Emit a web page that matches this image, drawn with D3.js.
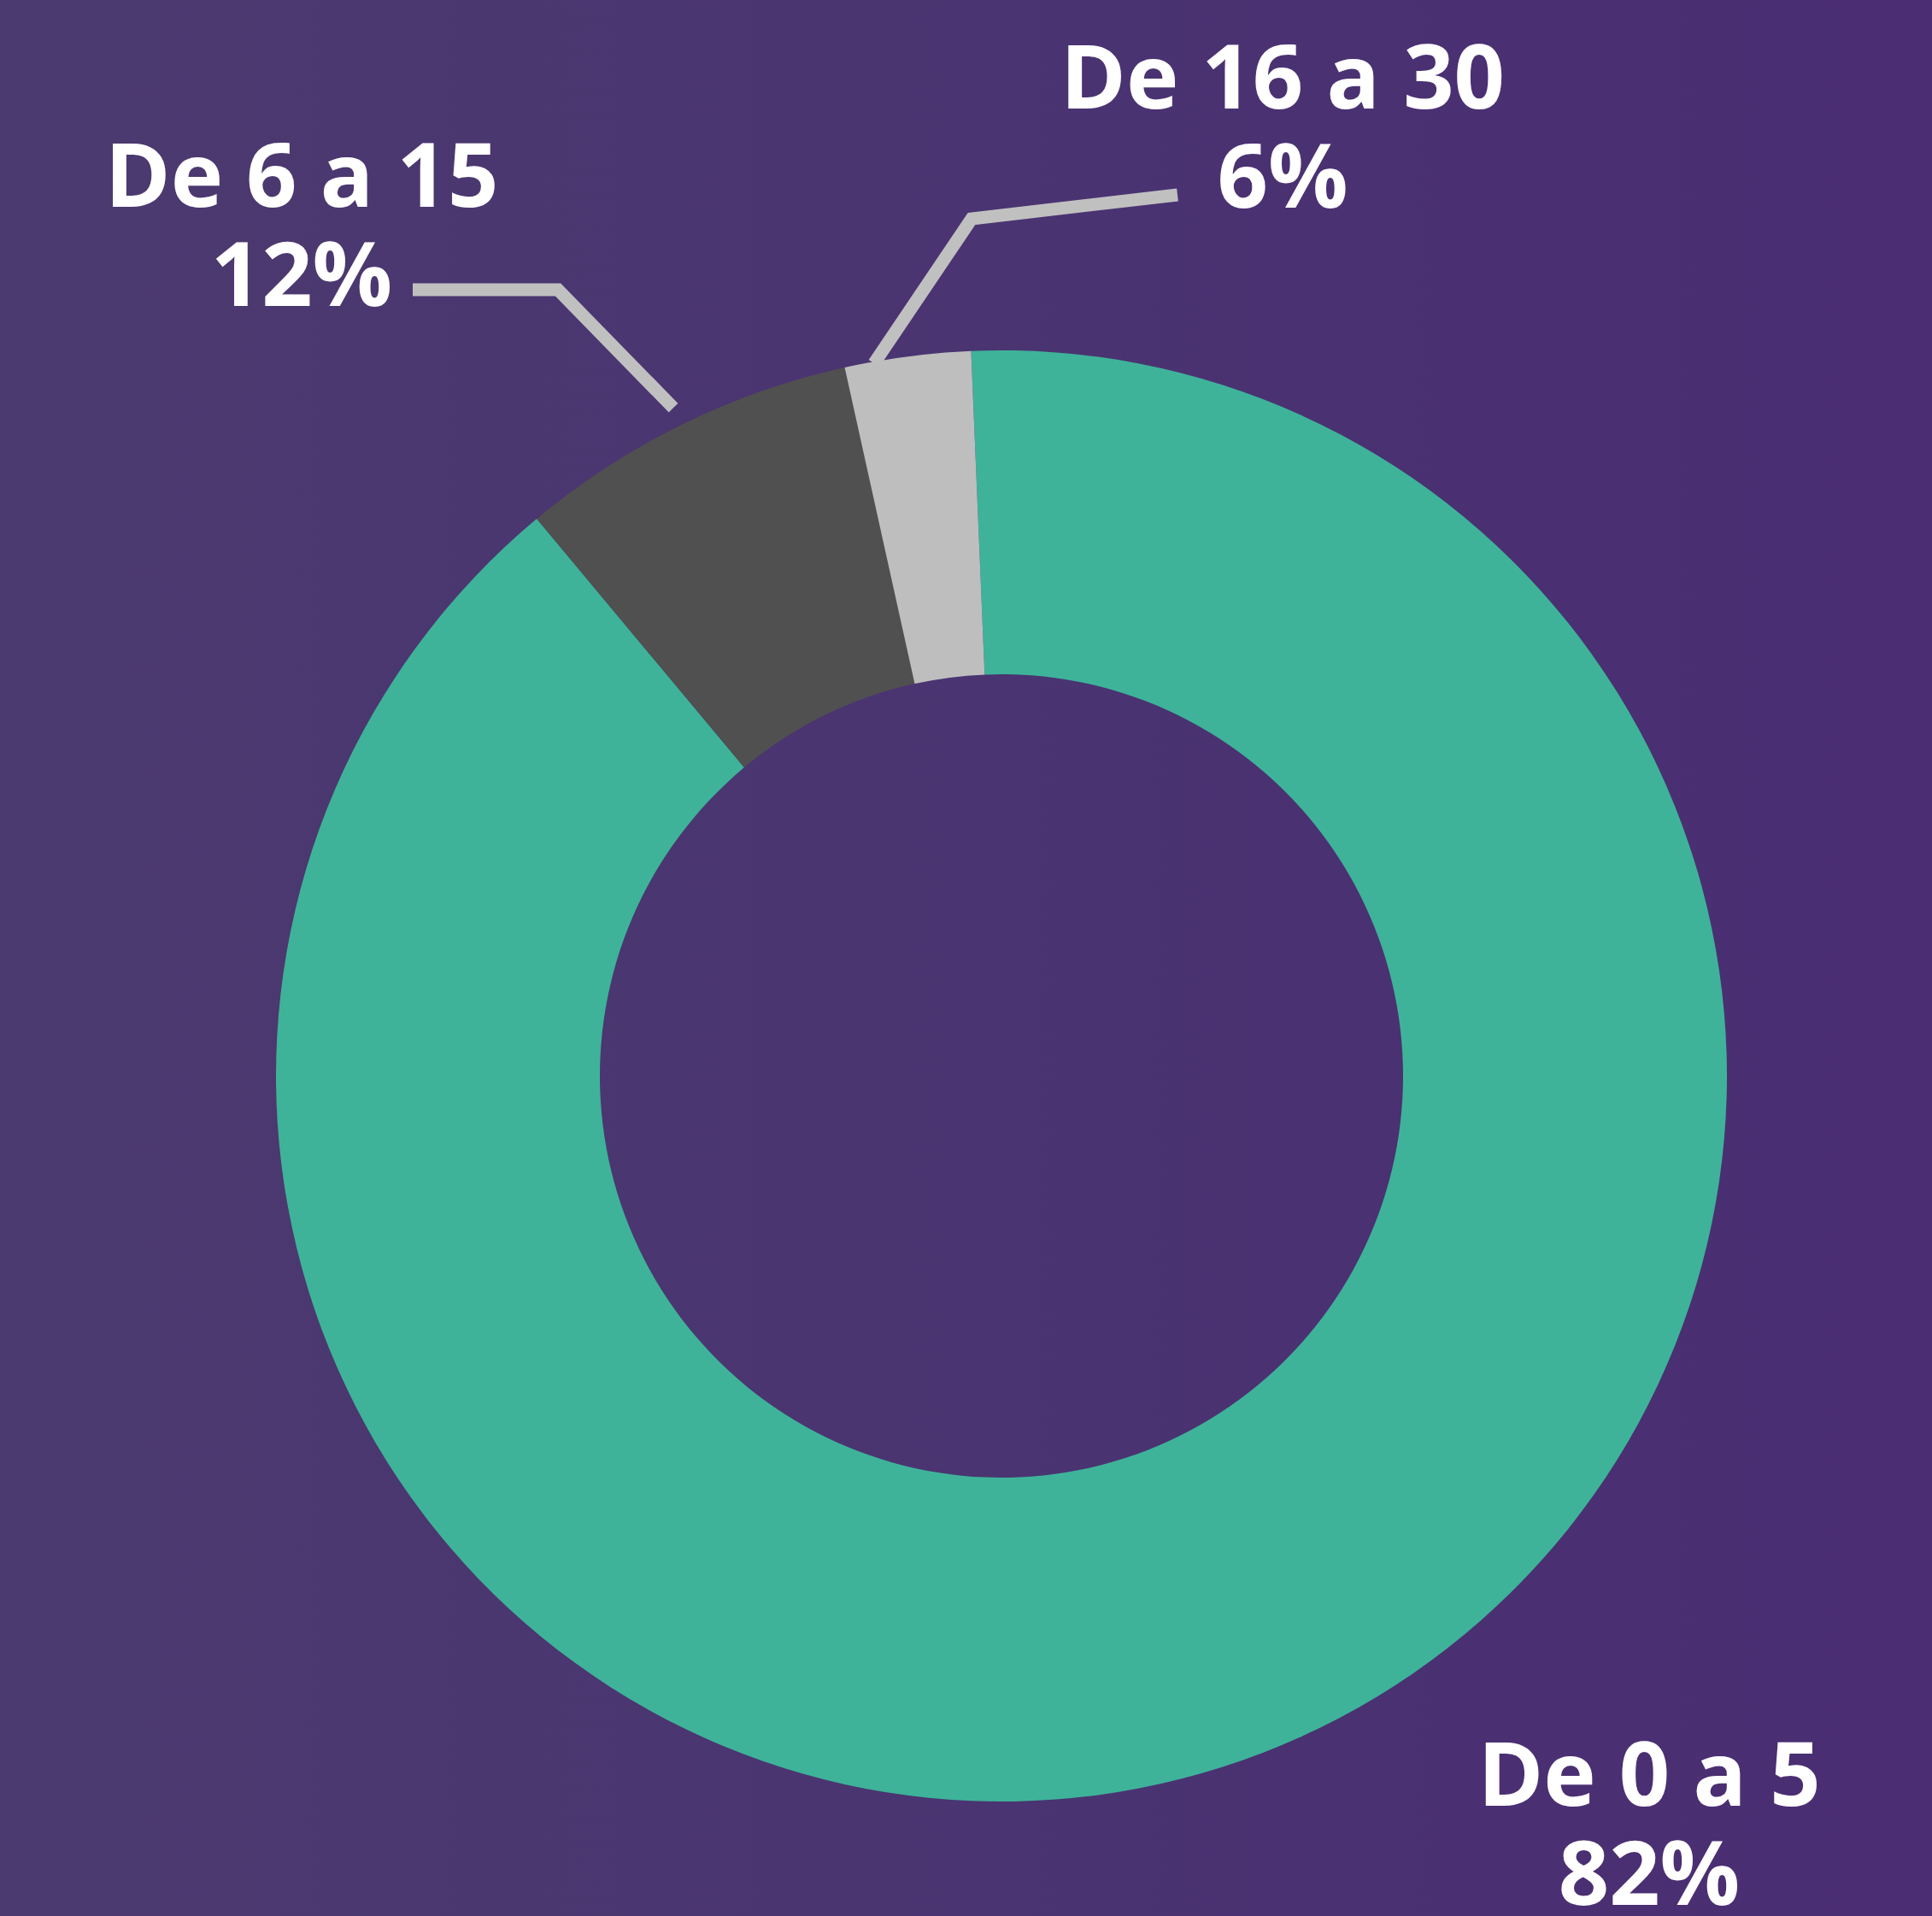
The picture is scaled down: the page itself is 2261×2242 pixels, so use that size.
<!DOCTYPE html>
<html>
<head>
<meta charset="utf-8">
<script src="https://cdn.jsdelivr.net/npm/d3@7"></script>
<style>
  body { margin: 0; background: #4a3171; }
  svg { display: block; }
  .label { font-family: "Open Sans", sans-serif; font-weight: 700; fill: #fff; }
</style>
</head>
<body>
<svg id="chart" width="2261" height="2242"></svg>
<script>
// categories and the percentages written on the labels
const categories = ["De 0 a 5", "De 6 a 15", "De 16 a 30"];
const shareLabels = ["82%", "12%", "6%"];
// slice sizes as they are actually drawn in the ring (they don't match the labels)
const arcShares = [89.6, 7.6, 2.8];
const colors = ["#3eb399", "#505050", "#bebebe"];

const width = 2261, height = 2242;
const cx = 1172, cy = 1259;
const outerR = 849, innerR = 470;
const startDeg = -2.4;

// where each label block sits, and the elbow / end of its leader line
const labelLayout = {
    "De 0 a 5":   { x: 1930, y: 2113, leader: null },
    "De 6 a 15":  { x: 353, y: 242, leader: { r: outerR + 22, nudge: 0, elbow: [653, 339], end: [483, 339] } },
    "De 16 a 30": { x: 1501, y: 127, leader: { r: outerR - 2, nudge: -2.7, elbow: [1137, 256], end: [1378, 228] } }
};

const svg = d3.select("#chart");

let defs = svg.append("defs");
let grad = defs.append("linearGradient").attr("id", "bg").attr("x1", 0).attr("x2", 1).attr("y1", 0).attr("y2", 0);
grad.append("stop").attr("offset", 0).attr("stop-color", "#4b3a6f");
grad.append("stop").attr("offset", 0.5).attr("stop-color", "#4a3471");
grad.append("stop").attr("offset", 1).attr("stop-color", "#4a2d73");
svg.append("rect").attr("width", width).attr("height", height).attr("fill", "url(#bg)");

const rad = d => d * Math.PI / 180;
const pie = d3.pie().sort(null).value(d => d.share)
    .startAngle(rad(startDeg)).endAngle(rad(startDeg) + 2 * Math.PI);
const arc = d3.arc().innerRadius(innerR).outerRadius(outerR);

const data = categories.map((c, i) => ({ name: c, label: shareLabels[i], share: arcShares[i], color: colors[i] }));
const arcs = pie(data);

const g = svg.append("g").attr("transform", `translate(${cx},${cy})`);

// leader lines go underneath the ring
arcs.forEach(a => {
    let lay = labelLayout[a.data.name].leader;
    if (!lay) return;
    let ang = (a.startAngle + a.endAngle) / 2 + rad(lay.nudge);
    let p0 = [Math.sin(ang) * lay.r, -Math.cos(ang) * lay.r];
    let pts = [p0, [lay.elbow[0] - cx, lay.elbow[1] - cy], [lay.end[0] - cx, lay.end[1] - cy]];
    g.append("path")
        .attr("d", d3.line()(pts))
        .attr("fill", "none")
        .attr("stroke", "#c0c0c0")
        .attr("stroke-width", 15)
        .attr("stroke-linejoin", "miter");
});

g.selectAll("path.slice")
    .data(arcs)
    .join("path")
    .attr("class", "slice")
    .attr("d", arc)
    .attr("fill", d => d.data.color);

// labels: category on the first line, percentage below
data.forEach(d => {
    let lay = labelLayout[d.name];
    let t = svg.append("text").attr("class", "label")
        .attr("text-anchor", "middle")
        .attr("font-size", 104)
        .attr("x", lay.x).attr("y", lay.y);
    t.append("tspan").attr("x", lay.x).text(d.name);
    t.append("tspan").attr("x", lay.x).attr("dy", 116).text(d.label);
});
</script>
</body>
</html>
